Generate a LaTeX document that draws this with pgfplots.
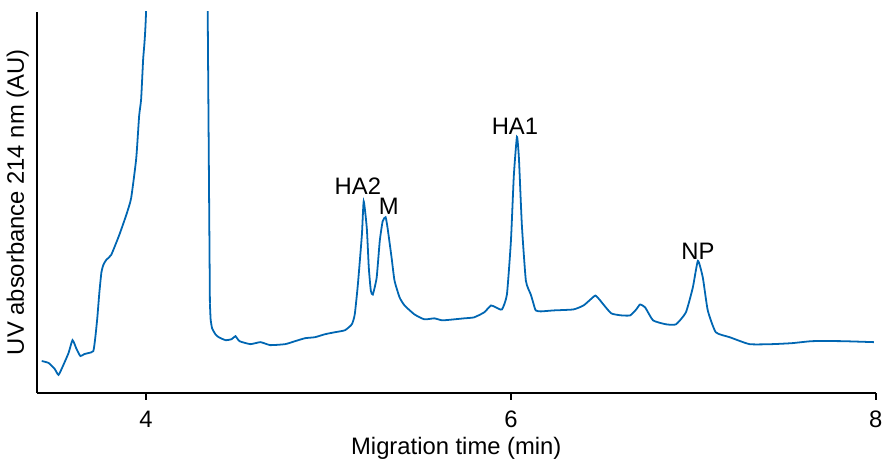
\documentclass[border=0pt]{standalone}
\usepackage{fontspec}
\setmainfont{Liberation Sans}
\usepackage{pgfplots}
\pgfplotsset{compat=1.18}
\definecolor{trace}{RGB}{0,102,178}

\begin{document}
\begin{tikzpicture}
\begin{axis}[
    scale only axis,
    width=423pt, height=192pt,
    xmin=3.401, xmax=8,
    ymin=0, ymax=384,
    axis x line*=bottom,
    axis y line*=left,
    axis line style={-, line width=1pt},
    xtick={4,6,8},
    ytick=\empty,
    tick align=outside,
    major tick length=3.5pt,
    tick style={line width=1pt, black},
    xticklabel style={yshift=-2pt},
    xlabel={Migration time (min)},
    xlabel style={yshift=2pt},
    ylabel={UV absorbance 214 nm (AU)},
    ylabel style={yshift=-3pt},
    font=\fontsize{12}{14}\selectfont,
    /pgf/number format/assume math mode=true,
    clip=true,
    after end axis/.code={\path (rel axis cs:0,1) ++(0pt,6pt);},
]
% left part up to the off-scale peak
\addplot[color=trace, line width=0.9pt, smooth, tension=0.3] coordinates {
    (3.428,32) (3.466,30) (3.499,24) (3.520,18) (3.542,26) (3.575,40)
    (3.597,53) (3.619,44) (3.640,37) (3.662,39) (3.684,40) (3.711,42)
    (3.722,56) (3.733,76) (3.744,101) (3.755,121) (3.766,129) (3.782,134)
    (3.809,139) (3.853,159) (3.891,179) (3.918,196) (3.946,236) (3.962,279)
    (3.973,296) (3.984,336) (4.000,384) (4.054,700) (4.272,700)
    (4.332,600) (4.338,384) (4.350,90)
};
% after the off-scale peak
\addplot[color=trace, line width=0.9pt, smooth, tension=0.3] coordinates {
    (4.350,90) (4.354,74) (4.362,65) (4.380,59) (4.398,56) (4.436,53)
    (4.469,54) (4.490,57) (4.512,52) (4.572,49) (4.627,51) (4.681,48)
    (4.763,49) (4.817,52) (4.872,55) (4.926,56) (4.981,59) (5.035,61)
    (5.090,63) (5.128,69) (5.144,79) (5.161,109) (5.183,159) (5.193,193)
    (5.210,166) (5.221,126) (5.232,103) (5.243,99) (5.264,116) (5.281,153)
    (5.297,173) (5.313,177) (5.324,166) (5.346,136) (5.362,113) (5.390,96)
    (5.417,88) (5.471,79) (5.526,74) (5.580,75) (5.624,73) (5.689,74)
    (5.744,75) (5.798,76) (5.853,81) (5.891,88) (5.918,86) (5.951,84)
    (5.978,99) (6.000,153) (6.016,219) (6.033,258) (6.044,236) (6.060,169)
    (6.082,113) (6.109,99) (6.125,89) (6.136,83) (6.163,82) (6.234,83)
    (6.343,84) (6.398,88) (6.436,94) (6.463,98) (6.485,94) (6.507,89)
    (6.550,80) (6.605,78) (6.654,78) (6.687,84) (6.708,89) (6.736,86)
    (6.779,73) (6.850,69) (6.905,69) (6.959,81) (6.997,106) (7.025,133)
    (7.052,116) (7.079,83) (7.123,61) (7.199,56) (7.308,49) (7.433,49)
    (7.542,50) (7.651,52) (7.815,52) (7.989,51)
};
\node at (axis cs:5.161,208) {HA2};
\node at (axis cs:5.330,188) {M};
\node at (axis cs:6.022,269) {HA1};
\node at (axis cs:7.025,143) {NP};
\end{axis}
\end{tikzpicture}
\end{document}
